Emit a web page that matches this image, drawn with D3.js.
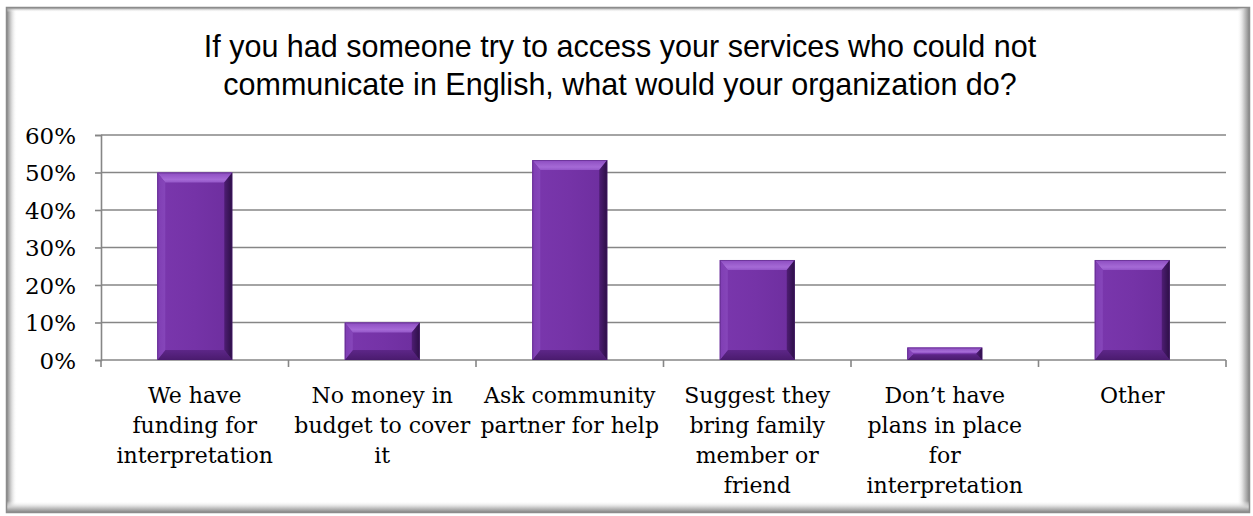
<!DOCTYPE html>
<html>
<head>
<meta charset="utf-8">
<script src="https://cdn.jsdelivr.net/npm/d3@7"></script>
<style>
  html, body { margin: 0; padding: 0; background: #fff; }
  svg { display: block; }
</style>
</head>
<body>
<svg id="chart" width="1253" height="516"></svg>
<script>
// Survey responses: what an organization does when a client can't communicate in English
const titleLines = [
  "If you had someone try to access your services who could not",
  "communicate in English, what would your organization do?"
];
const categories = [
  ["We have", "funding for", "interpretation"],
  ["No money in", "budget to cover", "it"],
  ["Ask community", "partner for help"],
  ["Suggest they", "bring family", "member or", "friend"],
  ["Don\u2019t have", "plans in place", "for", "interpretation"],
  ["Other"]
];
const values = [0.50, 0.10, 0.5333, 0.2667, 0.0333, 0.2667];
const yTicks = [0, 0.1, 0.2, 0.3, 0.4, 0.5, 0.6];

const svg = d3.select("#chart");
const plot = { left: 101, right: 1226, top: 135, bottom: 360 };

const keys = categories.map((c, i) => "c" + i);
const x = d3.scaleBand().domain(keys).range([plot.left, plot.right])
  .paddingInner(0.6).paddingOuter(0.3);
const y = d3.scaleLinear().domain([0, 0.6]).range([plot.bottom, plot.top]);
const step = x.step();

const defs = svg.append("defs");
function lin(id, x1, y1, x2, y2, stops) {
  const g = defs.append("linearGradient").attr("id", id)
    .attr("x1", x1).attr("y1", y1).attr("x2", x2).attr("y2", y2);
  stops.forEach(s => g.append("stop").attr("offset", s[0]).attr("stop-color", s[1]).attr("stop-opacity", s[2] == null ? 1 : s[2]));
}
// frame shadows
lin("shL", 0, 0, 1, 0, [[0, "#8a8a8a"], [0.35, "#c8c8c8"], [1, "#ffffff", 0]]);
lin("shR", 0, 0, 1, 0, [[0, "#ffffff", 0], [0.55, "#d0d0d0"], [1, "#8a8a8a"]]);
lin("shB", 0, 0, 0, 1, [[0, "#ffffff", 0], [0.55, "#d0d0d0"], [1, "#8a8a8a"]]);
lin("shT", 0, 0, 0, 1, [[0, "#9a9a9a"], [1, "#ffffff", 0]]);
// bar faces
lin("face", 0, 0, 1, 0, [[0, "#7a37ad"], [0.5, "#7533a7"], [1, "#6d2e9e"]]);
lin("bevTop", 0, 0, 0, 1, [[0, "#8c4cc0"], [0.7, "#a56ad6"], [1, "#9457c8"]]);
lin("bevLeft", 0, 0, 1, 0, [[0, "#7f3db3"], [1, "#8646ba"]]);
lin("bevRight", 0, 0, 1, 0, [[0, "#4e1d74"], [1, "#2c0f45"]]);
lin("bevBottom", 0, 0, 0, 1, [[0, "#5d2688"], [1, "#4a1b6e"]]);

// frame
svg.append("rect").attr("x", 6).attr("y", 7).attr("width", 1244).attr("height", 506)
  .attr("fill", "#fff");
svg.append("rect").attr("x", 7).attr("y", 8).attr("width", 10).attr("height", 504).attr("fill", "url(#shL)");
svg.append("rect").attr("x", 7).attr("y", 8).attr("width", 1242).attr("height", 4).attr("fill", "url(#shT)");
svg.append("rect").attr("x", 1237).attr("y", 8).attr("width", 12).attr("height", 504).attr("fill", "url(#shR)");
svg.append("rect").attr("x", 7).attr("y", 501).attr("width", 1242).attr("height", 11).attr("fill", "url(#shB)");
svg.append("rect").attr("x", 6.5).attr("y", 7.5).attr("width", 1243).attr("height", 505)
  .attr("fill", "none").attr("stroke", "#8c8c8c").attr("stroke-width", 1.5);

// title
svg.append("text")
  .attr("x", 620).attr("y", 57)
  .attr("text-anchor", "middle")
  .attr("font-family", "'Liberation Sans', Arial, sans-serif")
  .attr("font-size", 30.5).attr("fill", "#000")
  .selectAll("tspan").data(titleLines).join("tspan")
  .attr("x", 620).attr("dy", (d, i) => i ? 38 : 0).text(d => d);

// gridlines
svg.append("g").selectAll("line").data(yTicks).join("line")
  .attr("x1", plot.left).attr("x2", plot.right)
  .attr("y1", d => y(d)).attr("y2", d => y(d))
  .attr("stroke", "#868686").attr("stroke-width", 1.6);

// y axis
const yAxis = svg.append("g").attr("transform", `translate(${plot.left},0)`)
  .call(d3.axisLeft(y).tickValues(yTicks).tickFormat(d3.format(".0%")).tickSize(6).tickPadding(19));
yAxis.select(".domain").attr("stroke", "#868686").attr("stroke-width", 1.6);
yAxis.selectAll(".tick line").attr("stroke", "#868686").attr("stroke-width", 1.6);
yAxis.selectAll(".tick text")
  .attr("font-family", "'DejaVu Serif', serif").attr("font-size", 23).attr("fill", "#000")
  .attr("dy", "0.36em");

// x axis boundary ticks
const bounds = keys.map(k => x(k) - (step - x.bandwidth()) / 2).concat([plot.right]);
svg.append("g").selectAll("line").data(bounds).join("line")
  .attr("x1", d => d).attr("x2", d => d)
  .attr("y1", plot.bottom).attr("y2", plot.bottom + 7)
  .attr("stroke", "#868686").attr("stroke-width", 1.6);

// bars with bevelled edges
const bars = svg.append("g").selectAll("g").data(values).join("g");
bars.each(function (v, i) {
  const g = d3.select(this);
  const x0 = x(keys[i]), x1 = x0 + x.bandwidth();
  const y0 = y(v), y1 = y(0);
  const b = Math.min(10, (y1 - y0) / 2.2);
  const bs = Math.min(8, (y1 - y0) / 2.2);
  g.append("rect").attr("x", x0).attr("y", y0).attr("width", x1 - x0).attr("height", y1 - y0)
    .attr("fill", "url(#face)");
  const poly = (pts, fill) => g.append("polygon")
    .attr("points", pts.map(p => p.join(",")).join(" ")).attr("fill", fill);
  poly([[x0, y0], [x1, y0], [x1 - bs, y0 + b], [x0 + bs, y0 + b]], "url(#bevTop)");
  poly([[x0, y1], [x1, y1], [x1 - bs, y1 - b], [x0 + bs, y1 - b]], "url(#bevBottom)");
  poly([[x0, y0], [x0 + bs, y0 + b], [x0 + bs, y1 - b], [x0, y1]], "url(#bevLeft)");
  poly([[x1, y0], [x1 - bs, y0 + b], [x1 - bs, y1 - b], [x1, y1]], "url(#bevRight)");
  g.append("rect").attr("x", x0 + 0.5).attr("y", y0 + 0.5).attr("width", x1 - x0 - 1).attr("height", y1 - y0 - 1)
    .attr("fill", "none").attr("stroke", "#4a1a6e").attr("stroke-opacity", 0.45).attr("stroke-width", 1);
});

// category labels
svg.append("g").selectAll("text").data(categories).join("text")
  .attr("font-family", "'DejaVu Serif', serif").attr("font-size", 22).attr("fill", "#000")
  .attr("text-anchor", "middle")
  .attr("y", 403)
  .each(function (lines, i) {
    const cx = x(keys[i]) + x.bandwidth() / 2;
    d3.select(this).selectAll("tspan").data(lines).join("tspan")
      .attr("x", cx).attr("dy", (d, j) => j ? 30 : 0).text(d => d);
  });
</script>
</body>
</html>
